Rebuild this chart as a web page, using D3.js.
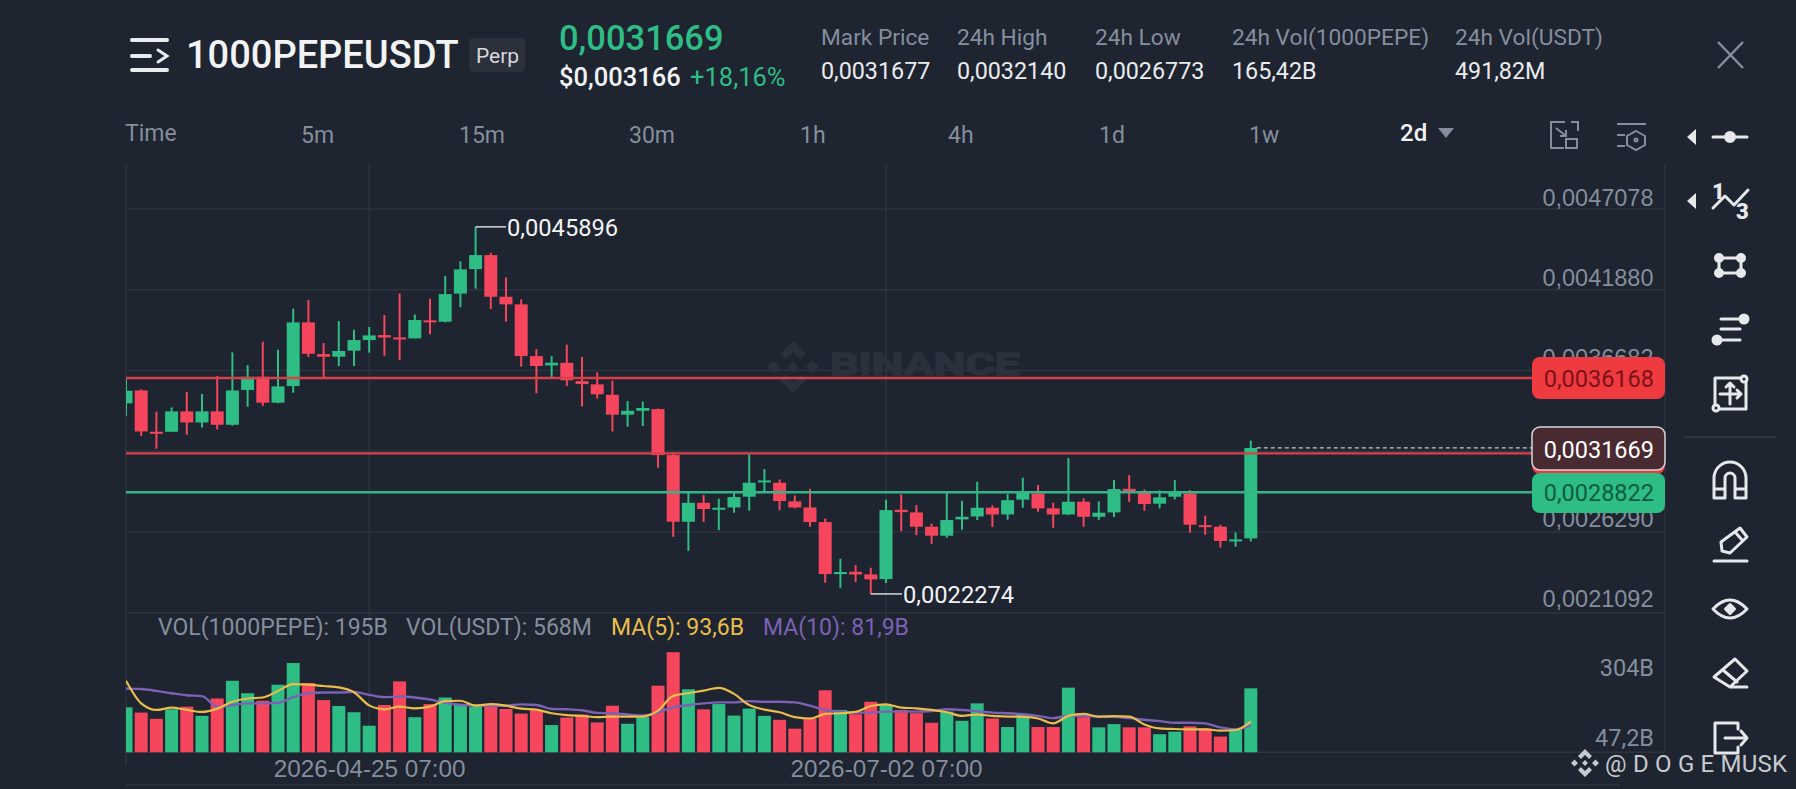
<!DOCTYPE html>
<html>
<head>
<meta charset="utf-8">
<script src="https://cdn.jsdelivr.net/npm/d3@7"></script>
<style>
  html, body { margin: 0; padding: 0; background: #1e2430; overflow: hidden; }
  svg { display: block; font-family: Roboto, sans-serif; }
  .axis .domain { display: none; }
</style>
</head>
<body>
<svg id="chart" width="1796" height="789"></svg>
<script>
// candles, one every 2 days
const opens = [.003454,.003537,.003271,.003271,.003402,.003331,.003402,.003316,.003540,.003625,.003458,.003565,.003975,.003771,.003754,.003793,.003861,.003893,.003878,.003872,.003988,.003979,.004160,.004318,.004408,.004140,.004091,.003758,.003698,.003715,.003597,.003576,.003509,.003381,.003406,.003417,.003121,.002692,.002814,.002774,.002784,.002853,.002947,.002943,.002823,.002784,.002690,.002355,.002370,.002353,.002323,.002769,.002752,.002660,.002602,.002707,.002726,.002782,.002739,.002834,.002874,.002778,.002739,.002821,.002724,.002752,.002904,.002879,.002808,.002853,.002874,.002670,.002660,.002568,.002585];
const highs = [.003615,.003544,.003400,.003428,.003527,.003514,.003630,.003782,.003700,.003851,.003799,.004063,.004119,.003842,.003984,.003928,.003945,.004022,.004160,.004026,.004127,.004273,.004368,.0045896,.004424,.004263,.004123,.003803,.003758,.003831,.003752,.003653,.003600,.003469,.003466,.003421,.003138,.002879,.002864,.002840,.002879,.003125,.003031,.002964,.002861,.002904,.002713,.002454,.002413,.002396,.002834,.002868,.002799,.002679,.002879,.002827,.002949,.002797,.002870,.002975,.002928,.002814,.003102,.002842,.002823,.002960,.002992,.002900,.002894,.002960,.002896,.002731,.002673,.002623,.003214];
const lows = [.003374,.003243,.003162,.003271,.003252,.003299,.003286,.003310,.003432,.003437,.003454,.003522,.003752,.003619,.003694,.003694,.003780,.003760,.003733,.003872,.003898,.003975,.004072,.004192,.004061,.003981,.003690,.003518,.003619,.003565,.003434,.003484,.003273,.003303,.003308,.003040,.002595,.002505,.002690,.002638,.002750,.002763,.002881,.002765,.002778,.002660,.002299,.002267,.002304,.0022274,.002297,.002632,.002606,.002550,.002589,.002640,.002703,.002658,.002705,.002782,.002756,.002653,.002735,.002660,.002703,.002722,.002819,.002763,.002778,.002836,.002621,.002608,.002525,.002531,.002565];
const closes = [.003535,.003273,.003260,.003402,.003331,.003402,.003316,.003537,.003625,.003458,.003563,.003975,.003773,.003754,.003791,.003861,.003891,.003878,.003866,.003990,.003975,.004157,.004316,.004408,.004140,.004091,.003758,.003694,.003715,.003602,.003578,.003512,.003381,.003406,.003424,.003121,.002692,.002814,.002774,.002782,.002851,.002943,.002958,.002825,.002784,.002690,.002355,.002368,.002353,.002321,.002767,.002754,.002660,.002602,.002703,.002724,.002782,.002739,.002831,.002879,.002778,.002739,.002821,.002724,.002750,.002902,.002885,.002806,.002849,.002877,.002673,.002660,.002568,.002578,.0031669];

// volume in billions of 1000PEPE, with its two moving averages
const volumes = [137,121,102,131,139,111,164,218,180,157,206,272,211,159,141,122,81,144,216,107,147,167,144,139,145,132,118,129,83,106,115,91,142,87,107,203,305,192,131,147,112,133,111,99,72,103,189,129,116,154,144,129,119,90,124,96,149,103,77,117,77,77,197,107,76,86,76,76,55,63,79,73,48,68,195];
const ma5 = [218,149,129,136,129,123,133,154,164,167,187,208,206,202,198,183,143,131,139,134,139,156,157,142,147,142,133,130,119,113,111,107,109,109,109,127,172,180,188,196,178,144,130,122,107,103,117,119,123,141,146,136,134,129,122,111,115,111,109,108,103,88,111,117,109,110,109,85,73,71,70,70,66,68,93.6];
const ma10 = [194,193,187,180,174,171,139,144,149,149,151,168,180,182,182,184,175,168,170,167,161,151,145,143,142,142,146,144,132,131,128,120,119,115,112,122,137,144,149,152,152,156,154,154,152,142,129,124,121,121,124,124,124,126,131,129,125,121,119,116,111,104,111,111,108,108,104,99,95,90,90,88,76,70,81.9];

const priceTicks = [.0047078,.0041880,.0036682,.0031484,.0026290,.0021092];
const volTicks = [304,47.2];
const dateTicks = [16,50];
const dateLabels = ["2026-04-25 07:00","2026-07-02 07:00"];

const sellLine = .0036168, sellLine2 = .003132, buyLine = .0028822, lastPrice = .0031669;

const intervals = ["5m","15m","30m","1h","4h","1d","1w"];
const intervalX = [301,459,629,800,948,1099,1249];
const statNames = ["Mark Price","24h High","24h Low","24h Vol(1000PEPE)","24h Vol(USDT)"];
const statValues = ["0,0031677","0,0032140","0,0026773","165,42B","491,82M"];
const statX = [821,957,1095,1232,1455];

const UP = "#2ebd85", DOWN = "#f6465d", GRID = "#2d333f", BG = "#1e2430";
const GRAY = "#848e9c", WHITE = "#eaecef", ICON = "#e6e8ec";
const left = 126, right = 1664;

const svg = d3.select("#chart");
const fmt = d => d.toFixed(7).replace(".", ",");
const fmtVol = d => (d < 100 ? d.toFixed(1).replace(".", ",") : d3.format("d")(d)) + "B";

const x = d3.scaleLinear().domain([0, 74]).range([left, 1250.8]);
const y = d3.scaleLinear().domain([.0047078, .0021092]).range([208.5, 612.3]);
const yVol = d3.scaleLinear().domain([0, 195]).range([752.3, 688.3]);
// the volume labels sit on their own spacing in the source
const yVolLabel = d3.scaleLinear().domain([304, 47.2]).range([676, 745.7]);

const isUp = closes.map((c, i) => c >= opens[i]);
const idx = d3.range(closes.length);
const barW = 13;

svg.append("defs").append("clipPath").attr("id", "plot")
  .append("rect").attr("x", left).attr("y", 160).attr("width", right - left).attr("height", 600);

// grid + axes
svg.append("g").attr("class", "axis price").attr("transform", `translate(${right},0)`)
  .call(d3.axisLeft(y).tickValues(priceTicks).tickFormat(fmt).tickSize(right - left).tickPadding(0))
  .call(g => g.selectAll("line").attr("stroke", GRID).attr("stroke-width", 1.5))
  .call(g => g.selectAll("text").attr("x", -10.5).attr("dy", 0).attr("y", (d, i) => -3 - i * 0.6)
    .attr("fill", GRAY).style("font-size", "23.5px").attr("text-anchor", "end"));

svg.append("g").attr("class", "axis dates").attr("transform", "translate(0,777)")
  .call(d3.axisBottom(x).tickValues(dateTicks).tickFormat((d, i) => dateLabels[i]).tickSize(0).tickPadding(0))
  .call(g => g.selectAll("text").attr("dy", 0).attr("y", 0)
    .attr("fill", GRAY).style("font-size", "24.3px"));

svg.selectAll(".vgrid").data(dateTicks).join("line").attr("class", "vgrid")
  .attr("x1", d => x(d)).attr("x2", d => x(d)).attr("y1", 164).attr("y2", 752)
  .attr("stroke", GRID).attr("stroke-width", 1.5);

[[left, left, 164, 766], [right + 1, right + 1, 163, 752]].forEach(l =>
  svg.append("line").attr("x1", l[0]).attr("x2", l[1]).attr("y1", l[2]).attr("y2", l[3])
    .attr("stroke", GRID).attr("stroke-width", 1.5));
[[left, right, 752.3], [left, 1480 + 140, 785]].forEach(l =>
  svg.append("line").attr("x1", l[0]).attr("x2", l[1]).attr("y1", l[2]).attr("y2", l[2])
    .attr("stroke", GRID).attr("stroke-width", 1.5));

// binance logo, centre diamond and four chevrons, s = half width
const logo = (cx, cy, s) => {
  const u = s / 4;
  const d = (a, b, r) => `M${cx + a * u},${cy + b * u - r * u}L${cx + a * u + r * u},${cy + b * u}L${cx + a * u},${cy + b * u + r * u}L${cx + a * u - r * u},${cy + b * u}Z`;
  const chev = (sx, sy) => `M${cx},${cy + sy * 4 * u}L${cx + sx * 2 * u},${cy + sy * 2 * u}L${cx + sx * 1.15 * u},${cy + sy * 1.15 * u}L${cx},${cy + sy * 2.3 * u}L${cx - sx * 1.15 * u},${cy + sy * 1.15 * u}L${cx - sx * 2 * u},${cy + sy * 2 * u}Z`;
  return d(0, 0, 0.85) + d(-3, 0, 1) + d(3, 0, 1) + chev(1, -1) + chev(1, 1);
};

// binance watermark
const wm = svg.append("g").attr("fill", "#2a303c");
wm.append("text").attr("x", 830).attr("y", 375).attr("font-size", 31).attr("font-weight", 700)
  .attr("stroke", "#2a303c").attr("stroke-width", 1.5)
  .attr("textLength", 190).attr("lengthAdjust", "spacingAndGlyphs").text("BINANCE");
wm.append("path").attr("d", logo(793, 367, 26));

// candles
const plot = svg.append("g").attr("clip-path", "url(#plot)");
plot.selectAll(".wick").data(idx).join("line").attr("class", "wick")
  .attr("x1", i => x(i)).attr("x2", i => x(i))
  .attr("y1", i => y(highs[i])).attr("y2", i => y(lows[i]))
  .attr("stroke", i => isUp[i] ? UP : DOWN).attr("stroke-width", 2);
plot.selectAll(".body").data(idx).join("rect").attr("class", "body")
  .attr("x", i => x(i) - barW / 2).attr("width", barW)
  .attr("y", i => y(Math.max(opens[i], closes[i])))
  .attr("height", i => Math.max(2, Math.abs(y(opens[i]) - y(closes[i]))))
  .attr("fill", i => isUp[i] ? UP : DOWN);

// volume
plot.selectAll(".vol").data(idx).join("rect").attr("class", "vol")
  .attr("x", i => x(i) - barW / 2).attr("width", barW)
  .attr("y", i => yVol(volumes[i]))
  .attr("height", i => yVol(0) - yVol(volumes[i]))
  .attr("fill", i => isUp[i] ? UP : DOWN);
const maLine = d3.line().x((d, i) => x(i)).y(d => yVol(d)).curve(d3.curveMonotoneX);
plot.append("path").attr("d", maLine(ma10)).attr("fill", "none").attr("stroke", "#7b62b4").attr("stroke-width", 2.4);
plot.append("path").attr("d", maLine(ma5)).attr("fill", "none").attr("stroke", "#e9bd4c").attr("stroke-width", 2.2);

// order lines
[[sellLine, "#d8404a"], [sellLine2, "#d8404a"], [buyLine, "#35b586"]].forEach(l =>
  svg.append("line").attr("x1", left).attr("x2", 1540).attr("y1", y(l[0])).attr("y2", y(l[0]))
    .attr("stroke", l[1]).attr("stroke-width", 2.4));
svg.append("line").attr("x1", x(74) + 6).attr("x2", 1540).attr("y1", y(lastPrice)).attr("y2", y(lastPrice))
  .attr("stroke", "#c8ccd2").attr("stroke-width", 1.3).attr("stroke-dasharray", "4,3");

// high and low callouts
const callout = (i, price, tx, ty) => {
  svg.append("line").attr("x1", x(i)).attr("x2", tx - 1).attr("y1", y(price)).attr("y2", y(price))
    .attr("stroke", "#d6d9de").attr("stroke-width", 1.5);
  svg.append("text").attr("x", tx).attr("y", ty).attr("fill", "#f2f3f5")
    .style("font-size", "23.7px").text(fmt(price));
};
callout(23, highs[23], 507, 236);
callout(49, lows[49], 903, 603);

// volume text
const legend = [["VOL(1000PEPE): 195B", 158, GRAY], ["VOL(USDT): 568M", 406, GRAY],
  ["MA(5): 93,6B", 611, "#e9bd4c"], ["MA(10): 81,9B", 763, "#7b62b4"]];
svg.selectAll(".legend").data(legend).join("text").attr("class", "legend")
  .attr("x", d => d[1]).attr("y", 635).attr("fill", d => d[2]).style("font-size", "23px").text(d => d[0]);
svg.selectAll(".volTick").data(volTicks).join("text").attr("class", "volTick")
  .attr("x", 1654).attr("y", d => yVolLabel(d)).attr("text-anchor", "end")
  .attr("fill", GRAY).style("font-size", "23.5px").text(fmtVol);

// price tags
const tag = (y0, y1, fill, stroke) => svg.append("rect").attr("x", 1532).attr("y", y0)
  .attr("width", 133).attr("height", y1 - y0).attr("rx", 8).attr("fill", fill)
  .attr("stroke", stroke || "none").attr("stroke-width", 1.5);
const tagText = (s, yy, fill) => svg.append("text").attr("x", 1654).attr("y", yy).attr("text-anchor", "end")
  .attr("fill", fill).style("font-size", "23.5px").text(s);
tag(357, 399, "#ef3a3f");
tagText(fmt(sellLine), 387, "#7c1218");
tag(435, 474, "#ef3a3f");
tag(473, 513, UP);
tagText(fmt(buyLine), 501, "#0b5c40");
tag(427, 470, "#4a2a31", "#d5d8dd");
tagText(fmt(lastPrice), 458, "#ffffff");

// header
const menu = svg.append("g").attr("stroke", WHITE).attr("stroke-width", 4).attr("fill", "none").attr("stroke-linecap", "round");
menu.append("path").attr("d", "M132,40H167M132,56H150M132,70H167");
menu.append("path").attr("d", "M158,50L167,56L158,62").attr("stroke-width", 3);
const hdr = (s, xx, yy, size, fill, weight) => svg.append("text").attr("x", xx).attr("y", yy)
  .attr("fill", fill).attr("font-weight", weight || 400).style("font-size", size + "px").text(s);
hdr("1000PEPEUSDT", 186, 68, 38, "#f2f3f5", 500);
svg.append("rect").attr("x", 469).attr("y", 38).attr("width", 56).attr("height", 34).attr("rx", 4).attr("fill", "#2b303b");
hdr("Perp", 476, 63, 21, "#d6d9de");
hdr("0,0031669", 559, 50, 34.5, UP, 500);
hdr("$0,003166", 559, 86, 25.5, "#f2f3f5", 500);
hdr("+18,16%", 690, 86, 25.5, UP, 400);
statNames.forEach((s, i) => {
  hdr(s, statX[i], 45, 22.7, GRAY);
  hdr(statValues[i], statX[i], 79, 23.3, WHITE);
});
svg.append("path").attr("d", "M1718,42L1743,68M1743,42L1718,68").attr("stroke", GRAY).attr("stroke-width", 2.5).attr("fill", "none");

// interval row
hdr("Time", 125, 141, 23, GRAY);
intervals.forEach((s, i) => hdr(s, intervalX[i], 143, 23, GRAY));
hdr("2d", 1400, 141, 24, "#f2f3f5", 500);
svg.append("path").attr("d", "M1438,128H1454L1446,138Z").attr("fill", GRAY);

// small gray tool icons
const gi = svg.append("g").attr("stroke", GRAY).attr("stroke-width", 2).attr("fill", "none");
gi.append("path").attr("d", "M1565,122H1551V148H1564M1571,122H1578V131");
gi.append("rect").attr("x", 1566).attr("y", 139).attr("width", 11).attr("height", 9);
gi.append("path").attr("d", "M1556,128L1566,136M1566,130V136H1560");
gi.append("path").attr("d", "M1617,124H1646M1617,135H1625M1617,146H1625");
gi.append("path").attr("d", "M1636,131L1645,136V145L1636,150L1627,145V136Z");
gi.append("circle").attr("cx", 1636).attr("cy", 140).attr("r", 1.5);

// right toolbar
const tb = svg.append("g").attr("stroke", ICON).attr("fill", "none").attr("stroke-width", 3).attr("stroke-linecap", "round").attr("stroke-linejoin", "round");
const tri = yy => svg.append("path").attr("d", `M1696,${yy - 8}V${yy + 8}L1687,${yy}Z`).attr("fill", ICON);
tri(137); tri(201);
tb.append("path").attr("d", "M1713,137H1747");
tb.append("circle").attr("cx", 1730).attr("cy", 137).attr("r", 4.5).attr("fill", ICON);
tb.append("path").attr("d", "M1713,208L1725,196L1734,205L1748,190");
svg.append("text").attr("x", 1712).attr("y", 199).attr("fill", ICON).attr("font-weight", 900).style("font-size", "22px").text("1");
svg.append("text").attr("x", 1736).attr("y", 219).attr("fill", ICON).attr("font-weight", 900).style("font-size", "22px").text("3");
tb.append("rect").attr("x", 1719).attr("y", 258).attr("width", 22).attr("height", 15);
[[1719, 258], [1741, 258], [1719, 273], [1741, 273]].forEach(p =>
  tb.append("circle").attr("cx", p[0]).attr("cy", p[1]).attr("r", 3.5).attr("fill", ICON));
tb.append("path").attr("d", "M1721,319H1742M1721,329H1740M1721,340H1740");
tb.append("circle").attr("cx", 1744).attr("cy", 319).attr("r", 4).attr("fill", ICON);
tb.append("circle").attr("cx", 1717).attr("cy", 340).attr("r", 4).attr("fill", ICON);
tb.append("rect").attr("x", 1715).attr("y", 378).attr("width", 31).attr("height", 31);
tb.append("path").attr("d", "M1730,383V404M1720,394H1741M1726,387L1730,383L1734,387M1737,390L1741,394L1737,398");
tb.append("circle").attr("cx", 1744).attr("cy", 379).attr("r", 3).attr("fill", BG);
tb.append("circle").attr("cx", 1716).attr("cy", 408).attr("r", 3).attr("fill", BG);
svg.append("line").attr("x1", 1684).attr("x2", 1776).attr("y1", 437).attr("y2", 437).attr("stroke", "#303642").attr("stroke-width", 2);
tb.append("path").attr("d", "M1714,498V478A16,16 0 0 1 1746,478V498H1735V478A5,5 0 0 0 1725,478V498ZM1714,489H1725M1735,489H1746");
tb.append("path").attr("d", "M1722,551L1721,542L1740,528L1747,537L1730,553ZM1735,532L1743,541M1714,561H1747");
tb.append("path").attr("d", "M1713,609Q1730,591 1747,609Q1730,627 1713,609Z");
tb.append("path").attr("d", `M1730,604.5L1734.5,609L1730,613.5L1725.5,609Z`).attr("fill", ICON);
tb.append("path").attr("d", "M1714,677L1735,659L1747,671L1730,687ZM1723,670L1737,682M1730,687H1747");
tb.append("path").attr("d", "M1738,729V723H1715V753H1738V747M1725,738H1746M1741,731L1747,738L1741,745");

// user tag
svg.append("path").attr("d", logo(1585, 763, 14)).attr("fill", "#c6cad1");
svg.append("text").attr("x", 1605).attr("y", 772).attr("fill", "#c6cad1").style("font-size", "24px").attr("textLength", 182).text("@ D O G E MUSK");
</script>
</body>
</html>
